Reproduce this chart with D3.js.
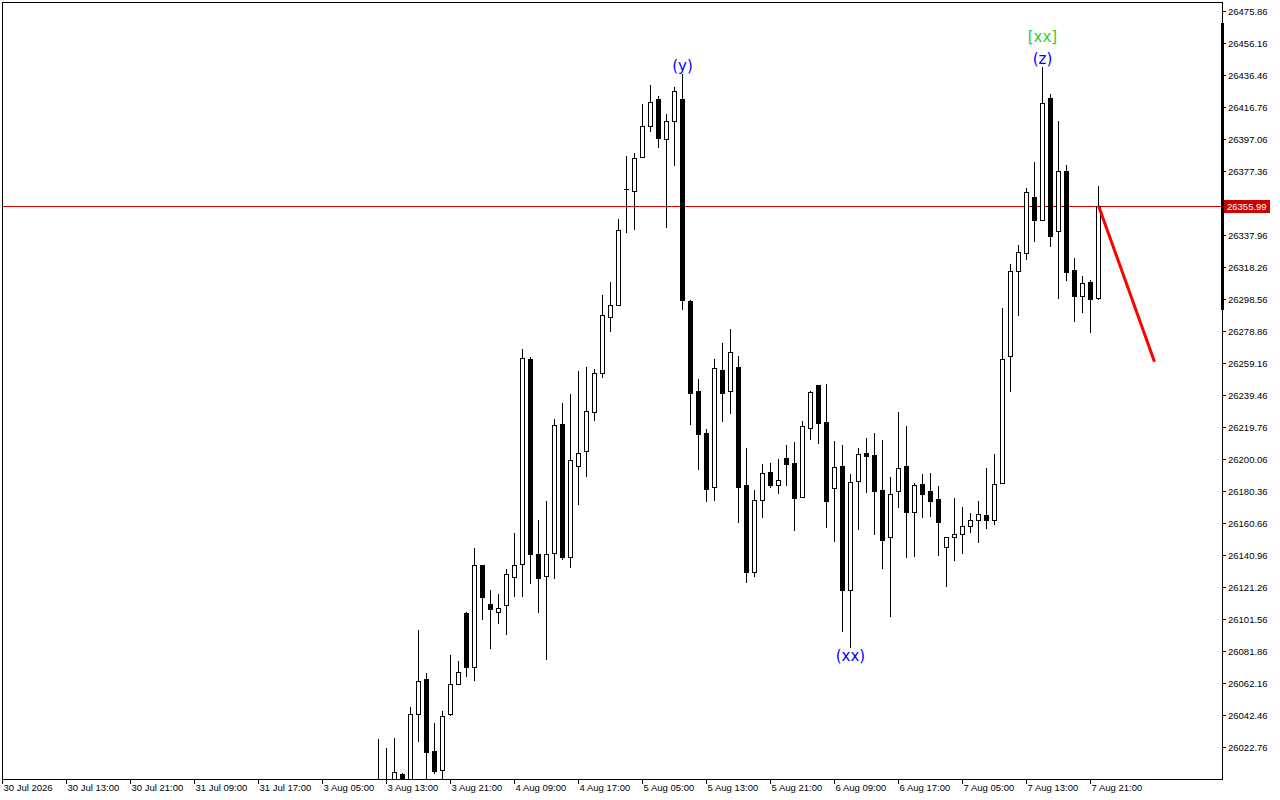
<!DOCTYPE html>
<html><head><meta charset="utf-8">
<script src="https://cdn.jsdelivr.net/npm/d3@7"></script>
<style>html,body{margin:0;padding:0;background:#fff;overflow:hidden}</style>
</head><body><svg id="c" width="1280" height="800"></svg>
<script>
// ---- DATA ----
const firstIndex = 47; // bar index of first visible candle (bars counted from 30 Jul 05:00)
const opens  = [25985,25995,25998,26005.95,25998,26042.89,26064.44,26020.29,26008.78,26043.08,26061.37,26105.25,26071.82,26134.61,26110.78,26106.04,26110.35,26127.60,26135.23,26261.63,26141.58,26128.21,26142.0,26221.42,26139.54,26195.57,26204.80,26228.81,26252.82,26287.30,26294.69,26366.09,26364.86,26386.16,26404.88,26421.50,26396.87,26407.96,26421.50,26297.14,26241.91,26215.88,26183.01,26254.85,26241.74,26256.70,26184.05,26130.30,26174.62,26191.87,26183.86,26200.67,26197.41,26176.48,26218.95,26245.42,26222.83,26182.02,26195.74,26119.59,26186.33,26203.75,26202.33,26180.97,26151.85,26180.17,26195.62,26167.61,26184.48,26180.17,26175.25,26145.70,26151.85,26153.70,26158.62,26162.32,26165.39,26162.32,26185.47,26263.66,26315.98,26326.69,26361.17,26347.38,26422.11,26340.24,26377.17,26316.41,26300.22,26308.84,26299.0];
const highs  = [26027.68,26022.14,26028.11,26006.5,26047.20,26094.79,26068.13,26037.53,26044.74,26079.41,26075.72,26105.87,26145.08,26134.61,26119.40,26116.75,26132.35,26154.51,26267.79,26263.04,26162.50,26174.20,26224.68,26234.35,26239.89,26254.24,26256.51,26255.47,26300.84,26308.84,26347.63,26386.59,26388.62,26418.61,26430.30,26423.53,26412.45,26429.07,26437.07,26297.94,26249.12,26218.52,26261.62,26271.66,26280.09,26263.47,26207.01,26180.78,26196.98,26197.59,26200.05,26208.67,26210.51,26223.44,26242.10,26245.42,26246.23,26211.14,26208.67,26190.64,26206.64,26212.80,26216.06,26211.75,26188.79,26228.99,26220.37,26185.10,26190.83,26191.44,26183.44,26151.86,26176.05,26170.51,26166.81,26174.20,26194.51,26203.13,26292.83,26320.11,26331.62,26366.70,26382.72,26441.20,26424.76,26408.14,26381.05,26323.61,26312.54,26310.26,26368.31];
const lows   = [25975,25980,25990,25985,25990,26026.45,25998,26006.93,25998,26042.65,26061.37,26066.65,26064.19,26101.74,26083.51,26099.27,26092.5,26115.90,26115.90,26123.91,26106.05,26077.11,26127.1,26138.31,26133.76,26172.18,26189.78,26224.07,26250.73,26279.05,26294.69,26339.99,26341.84,26386.16,26402.17,26392.32,26343.07,26381.05,26292.59,26221.79,26194.08,26174.20,26174.8,26223.64,26228.56,26161.46,26124.52,26128.21,26164.53,26183.01,26179.31,26184.24,26156.53,26176.48,26212.55,26210.21,26158.37,26149.76,26094.34,26084.50,26157.15,26179.56,26153.88,26133.13,26103.59,26170.69,26139.91,26140.52,26164.53,26165.15,26141.14,26122.06,26138.06,26142.37,26155.30,26148.96,26157.76,26160.23,26185.28,26242.11,26288.89,26323.18,26334.45,26347.38,26331.37,26299.36,26310.44,26285.19,26290.74,26278.43,26298.37];
const closes = [25998,25990,26007.18,25995,26042.89,26063.21,26019.86,26008.16,26041.66,26061.37,26068.76,26072.0,26134.61,26115.28,26107.89,26108.13,26129.08,26134.61,26262.06,26141.76,26126.98,26141.39,26220.8,26139.54,26199.26,26203.94,26229.42,26252.82,26288.53,26294.69,26340.86,26366.09,26385.18,26404.88,26419.65,26397.86,26407.96,26426.42,26297.76,26240.51,26215.26,26181.40,26255.90,26240.88,26265.75,26183.01,26130.68,26174.62,26191.25,26184.24,26186.94,26197.16,26176.23,26220.18,26241.30,26222.52,26174.38,26194.94,26119.59,26185.72,26202.95,26202.09,26180.54,26150.37,26178.32,26194.33,26167.61,26183.86,26178.69,26174.38,26161.46,26151.86,26153.70,26158.62,26162.32,26166.01,26162.32,26184.48,26261.44,26315.61,26327.31,26364.25,26347.38,26419.03,26337.53,26377.17,26315.36,26300.59,26308.22,26298.38,26355.99];
const timeLabels = ["30 Jul 2026","30 Jul 13:00","30 Jul 21:00","31 Jul 09:00","31 Jul 17:00","3 Aug 05:00","3 Aug 13:00","3 Aug 21:00","4 Aug 09:00","4 Aug 17:00","5 Aug 05:00","5 Aug 13:00","5 Aug 21:00","6 Aug 09:00","6 Aug 17:00","7 Aug 05:00","7 Aug 13:00","7 Aug 21:00"];
const barsPerLabel = 8;
const priceTicks = [26475.86,26456.16,26436.46,26416.76,26397.06,26377.36,26357.66,26337.96,26318.26,26298.56,26278.86,26259.16,26239.46,26219.76,26200.06,26180.36,26160.66,26140.96,26121.26,26101.56,26081.86,26062.16,26042.46,26022.76];
const currentPrice = 26355.99;
const forecastBars = [137, 144];
const forecastPrices = [26355.99, 26260.0];
const waveBars  = [85, 106, 130, 130];
const waveTexts = ["(y)", "(xx)", "(z)", "[xx]"];
const waveAt    = ["high", "low", "high", "high"];

// ---- LAYOUT / STYLE ----
const L = 2, R = 1222, T = 2, B = 779;
const waveColors = ["#0000ff","#0000ff","#0000ff","#32cd32"];
const waveOffsets = [-3, 14, -3, -25];
const axisFont = "Liberation Sans, Arial, sans-serif";

const svg = d3.select("#c");
const x = d3.scaleLinear().domain([0, (R - L) / 8]).range([L, R]);
const y = d3.scaleLinear().domain([26022.76, 26475.86]).range([747, 11]);

const bars = opens.map((o, j) => ({i: firstIndex + j, o, h: highs[j], l: lows[j], c: closes[j]}));

svg.append("defs").append("clipPath").attr("id","plot")
  .append("rect").attr("x", L + 1).attr("y", T + 1).attr("width", R - L - 1).attr("height", B - T - 1);

const plot = svg.append("g").attr("clip-path","url(#plot)");

// current price line
plot.append("line")
  .attr("x1", L).attr("x2", R)
  .attr("y1", Math.round(y(currentPrice)) + 0.5).attr("y2", Math.round(y(currentPrice)) + 0.5)
  .attr("stroke", "#e00000").attr("stroke-width", 1);

// candles
const g = plot.append("g").selectAll("g").data(bars).join("g");
g.append("line")
  .attr("x1", d => Math.round(x(d.i)) + 0.5).attr("x2", d => Math.round(x(d.i)) + 0.5)
  .attr("y1", d => Math.round(y(d.h))).attr("y2", d => Math.round(y(d.l)) + 1)
  .attr("stroke", "#000").attr("stroke-width", 1);
g.each(function(d) {
  const s = d3.select(this);
  const cx = Math.round(x(d.i));
  const yt = Math.round(y(Math.max(d.o, d.c)));
  const yb = Math.round(y(Math.min(d.o, d.c)));
  if (yb - yt < 1) {
    s.append("line").attr("x1", cx - 2).attr("x2", cx + 3)
      .attr("y1", yt + 0.5).attr("y2", yt + 0.5).attr("stroke", "#000");
  } else {
    s.append("rect").attr("x", cx - 1.5).attr("y", yt + 0.5)
      .attr("width", 4).attr("height", yb - yt)
      .attr("fill", d.c >= d.o ? "#fff" : "#000")
      .attr("stroke", "#000").attr("stroke-width", 1);
  }
});

// forecast line
plot.append("line")
  .attr("x1", x(forecastBars[0]) + 0.5).attr("y1", y(forecastPrices[0]))
  .attr("x2", x(forecastBars[1]) + 0.5).attr("y2", y(forecastPrices[1]))
  .attr("stroke", "#ff0000").attr("stroke-width", 3);

// wave labels
waveBars.forEach((b, j) => {
  const d = bars[b - firstIndex];
  const py = waveAt[j] === "high" ? y(d.h) : y(d.l);
  plot.append("text")
    .attr("x", x(b) + 0.5).attr("y", py + waveOffsets[j])
    .attr("text-anchor", "middle")
    .attr("font-family", "DejaVu Sans, sans-serif").attr("font-size", 15)
    .attr("fill", waveColors[j]).text(waveTexts[j]);
});

// frame
svg.append("rect").attr("x", L + 0.5).attr("y", T + 0.5)
  .attr("width", R - L).attr("height", B - T)
  .attr("fill", "none").attr("stroke", "#000").attr("stroke-width", 1);
svg.append("rect").attr("x", R - 1).attr("y", 23).attr("width", 3).attr("height", 287).attr("fill", "#000");

// right price axis
const ya = svg.append("g");
const cy = Math.round(y(currentPrice));
priceTicks.forEach(p => {
  const yy = Math.round(y(p)) + 0.5;
  ya.append("line").attr("x1", R).attr("x2", R + 4).attr("y1", yy).attr("y2", yy).attr("stroke", "#000");
  if (Math.abs(yy - cy) < 9) return; // label covered by the current-price tag
  ya.append("text").attr("x", R + 6).attr("y", yy).attr("dy", "0.35em")
    .attr("font-family", axisFont).attr("font-size", 9.5).attr("fill", "#000").text(p.toFixed(2));
});
// current price tag
ya.append("rect").attr("x", R + 2).attr("y", cy - 6).attr("width", 46).attr("height", 13).attr("fill", "#cc0000");
ya.append("text").attr("x", R + 5).attr("y", cy + 0.5).attr("dy", "0.35em")
  .attr("font-family", axisFont).attr("font-size", 9.5).attr("fill", "#fff").text(currentPrice.toFixed(2));

// bottom time axis
const xa = svg.append("g");
timeLabels.forEach((t, j) => {
  const xx = Math.round(x(j * barsPerLabel)) + 0.5;
  xa.append("line").attr("x1", xx).attr("x2", xx).attr("y1", B).attr("y2", B + 5).attr("stroke", "#000");
  xa.append("text").attr("x", xx + 1).attr("y", B + 12)
    .attr("font-family", axisFont).attr("font-size", 9.5).attr("fill", "#000").text(t);
});
</script></body></html>
